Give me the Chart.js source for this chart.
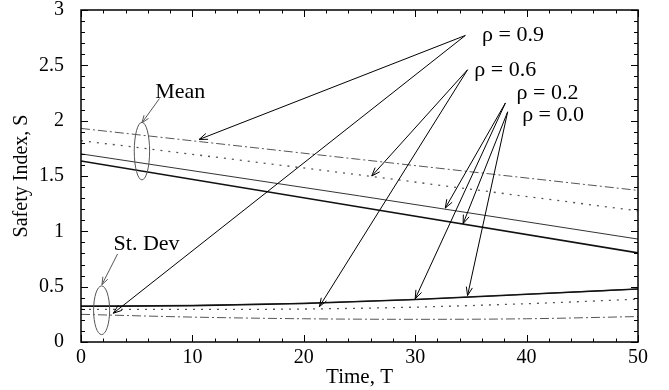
<!DOCTYPE html>
<html>
<head>
<meta charset="utf-8">
<script src="https://cdn.jsdelivr.net/npm/chart.js@4/dist/chart.umd.min.js"></script>
<style>
  body { margin: 0; background: #fff; }
  #wrap { width: 669px; height: 390px; }
</style>
</head>
<body>
<div id="wrap"><canvas id="chart"></canvas></div>
<script>
// mean curves are straight, read at T = 0, 25, 50
const meanTimes = [0, 25, 50];
const meanRho00 = [1.635, 1.22, 0.805];
const meanRho02 = [1.70, 1.32, 0.93];
const meanRho06 = [1.82, 1.51, 1.185];
const meanRho09 = [1.93, 1.65, 1.37];

// standard deviation curves
const sdTimes = [0, 10, 20, 30, 40, 50];
const sdRho00 = [0.322, 0.328, 0.348, 0.383, 0.430, 0.480];
const sdRho02 = [0.326, 0.331, 0.350, 0.386, 0.432, 0.478];
const sdRho06 = [0.295, 0.294, 0.298, 0.315, 0.346, 0.387];
const sdRho09 = [0.250, 0.225, 0.210, 0.205, 0.210, 0.230];

const rhoLabels = ['ρ = 0.9', 'ρ = 0.6', 'ρ = 0.2', 'ρ = 0.0'];

// annotation anchors, in data units (T, S)
const rhoLabelAt = [[36.0, 2.77], [35.3, 2.46], [39.1, 2.25], [39.6, 2.05]];
const rhoArrowFrom = [[34.5, 2.77], [34.7, 2.46], [38.1, 2.16], [38.3, 2.08]];
const rhoArrowToMean = [[10.6, 1.83], [26.1, 1.50], [32.7, 1.21], [34.3, 1.07]];
const rhoArrowToSd = [[2.9, 0.26], [21.4, 0.32], [30.0, 0.39], [34.7, 0.42]];

const groupLabels = ['Mean', 'St. Dev'];
const groupLabelAt = [[6.66, 2.26], [2.92, 0.88]];
const groupArrowFrom = [[7.04, 2.20], [3.28, 0.795]];
const groupArrowTo = [[5.47, 1.98], [1.88, 0.518]];
const ellipseAt = [[5.47, 1.725, 0.69, 0.26], [1.85, 0.287, 0.72, 0.22]];

const serif = '"Liberation Serif", "DejaVu Serif", serif';

function pts(xs, ys) {
    return xs.map((t, i) => ({ x: t, y: ys[i] }));
}

function line(label, xs, ys, color, width, dash, tension) {
    return {
        label: label,
        data: pts(xs, ys),
        borderColor: color,
        borderWidth: width,
        borderDash: dash,
        pointRadius: 0,
        fill: false,
        tension: tension,
        cubicInterpolationMode: tension ? 'monotone' : 'default'
    };
}

function arrow(ctx, x1, y1, x2, y2, head) {
    const ang = Math.atan2(y2 - y1, x2 - x1);
    ctx.beginPath();
    ctx.moveTo(x1, y1);
    ctx.lineTo(x2, y2);
    ctx.moveTo(x2 - head * Math.cos(ang - 0.35), y2 - head * Math.sin(ang - 0.35));
    ctx.lineTo(x2, y2);
    ctx.lineTo(x2 - head * Math.cos(ang + 0.35), y2 - head * Math.sin(ang + 0.35));
    ctx.stroke();
}

const annotate = {
    id: 'annotate',
    afterDatasetsDraw(chart) {
        const { ctx, chartArea: a, scales: { x, y } } = chart;
        const px = v => x.getPixelForValue(v);
        const py = v => y.getPixelForValue(v);
        ctx.save();

        // frame with inward ticks on all sides
        ctx.strokeStyle = '#000';
        ctx.lineWidth = 1.5;
        ctx.strokeRect(a.left, a.top, a.right - a.left, a.bottom - a.top);
        ctx.lineWidth = 1;
        ctx.beginPath();
        for (let t = 0; t <= 50; t += 2) {
            const len = t % 10 === 0 ? 7 : 3.5;
            const xx = Math.round(px(t)) + 0.5;
            ctx.moveTo(xx, a.bottom); ctx.lineTo(xx, a.bottom - len);
            ctx.moveTo(xx, a.top); ctx.lineTo(xx, a.top + len);
        }
        for (let k = 0; k <= 30; k++) {
            const len = k % 5 === 0 ? 7 : 4;
            const yy = Math.round(py(k / 10)) + 0.5;
            ctx.moveTo(a.left, yy); ctx.lineTo(a.left + len, yy);
            ctx.moveTo(a.right, yy); ctx.lineTo(a.right - len, yy);
        }
        ctx.stroke();

        ctx.font = '22px ' + serif;
        ctx.textBaseline = 'middle';
        ctx.textAlign = 'left';
        ctx.fillStyle = '#000';

        // rho labels and their arrows
        ctx.strokeStyle = '#000';
        rhoLabels.forEach((txt, i) => {
            ctx.fillText(txt, px(rhoLabelAt[i][0]), py(rhoLabelAt[i][1]));
            const fx = px(rhoArrowFrom[i][0]), fy = py(rhoArrowFrom[i][1]);
            arrow(ctx, fx, fy, px(rhoArrowToMean[i][0]), py(rhoArrowToMean[i][1]), 9);
            arrow(ctx, fx, fy, px(rhoArrowToSd[i][0]), py(rhoArrowToSd[i][1]), 9);
        });

        // group labels, ellipses, arrows
        ctx.strokeStyle = '#555';
        groupLabels.forEach((txt, i) => {
            ctx.fillText(txt, px(groupLabelAt[i][0]), py(groupLabelAt[i][1]));
            arrow(ctx, px(groupArrowFrom[i][0]), py(groupArrowFrom[i][1]),
                px(groupArrowTo[i][0]), py(groupArrowTo[i][1]), 8);
            const e = ellipseAt[i];
            const cx = px(e[0]), cy = py(e[1]);
            ctx.beginPath();
            ctx.ellipse(cx, cy, px(e[0] + e[2]) - cx, cy - py(e[1] + e[3]), 0, 0, Math.PI * 2);
            ctx.stroke();
        });
        ctx.restore();
    }
};

new Chart(document.getElementById('chart'), {
    type: 'line',
    data: {
        datasets: [
            line('Mean ρ=0.0', meanTimes, meanRho00, '#111', 1.6, [], 0),
            line('Mean ρ=0.2', meanTimes, meanRho02, '#333', 1, [], 0),
            line('Mean ρ=0.6', meanTimes, meanRho06, '#555', 1.3, [2, 6], 0),
            line('Mean ρ=0.9', meanTimes, meanRho09, '#555', 1, [9, 3, 2, 3], 0),
            line('SD ρ=0.0', sdTimes, sdRho00, '#111', 1.4, [], 0.4),
            line('SD ρ=0.2', sdTimes, sdRho02, '#333', 1.2, [], 0.4),
            line('SD ρ=0.6', sdTimes, sdRho06, '#555', 1.3, [2, 6], 0.4),
            line('SD ρ=0.9', sdTimes, sdRho09, '#555', 1, [9, 3, 2, 3], 0.4)
        ]
    },
    options: {
        responsive: true,
        maintainAspectRatio: false,
        animation: false,
        layout: { padding: { left: 0, right: 31, top: 10, bottom: 0 } },
        plugins: {
            legend: { display: false },
            tooltip: { enabled: false }
        },
        scales: {
            x: {
                type: 'linear',
                min: 0,
                max: 50,
                afterFit: s => {
                    s.height = 48;
                    s.paddingLeft = 0;
                    s.paddingRight = 0;
                },
                grid: { display: false },
                border: { display: false },
                ticks: {
                    stepSize: 10,
                    padding: -4,
                    color: '#000',
                    maxRotation: 0,
                    font: { family: serif, size: 20 }
                },
                title: {
                    display: true,
                    text: 'Time, T',
                    color: '#000',
                    padding: { top: 0, bottom: 0 },
                    font: { family: serif, size: 21 }
                }
            },
            y: {
                min: 0,
                max: 3,
                afterFit: s => {
                    s.width = 81;
                    s.paddingTop = 0;
                    s.paddingBottom = 0;
                },
                grid: { display: false },
                border: { display: false },
                ticks: {
                    stepSize: 0.5,
                    padding: 9,
                    color: '#000',
                    font: { family: serif, size: 20 },
                    callback: v => String(v)
                },
                title: {
                    display: true,
                    text: 'Safety Index, S',
                    color: '#000',
                    padding: { top: 10, bottom: 0 },
                    font: { family: serif, size: 20 }
                }
            }
        }
    },
    plugins: [annotate]
});
</script>
</body>
</html>
